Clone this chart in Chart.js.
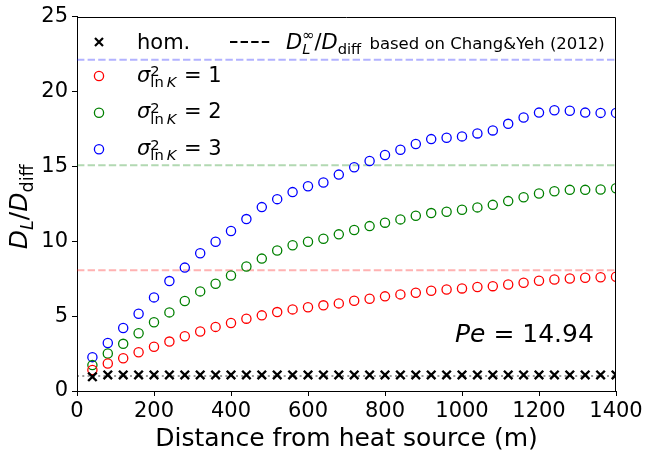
<!DOCTYPE html>
<html><head><meta charset="utf-8">
<script src="https://cdn.jsdelivr.net/npm/chart.js@4/dist/chart.umd.min.js"></script>
<style>html,body{margin:0;padding:0;background:#fff}#wrap{width:646px;height:454px}</style>
</head><body><div id="wrap"><canvas id="c" width="646" height="454"></canvas></div>
<script>
const distance = [40,80,120,160,200,240,280,320,360,400,440,480,520,560,600,640,680,720,760,800,840,880,920,960,1000,1040,1080,1120,1160,1200,1240,1280,1320,1360,1400];
const homValues = [0.95,1.07,1.07,1.07,1.07,1.07,1.07,1.07,1.07,1.07,1.07,1.07,1.07,1.07,1.07,1.07,1.07,1.07,1.07,1.07,1.07,1.07,1.07,1.07,1.07,1.07,1.07,1.07,1.07,1.07,1.07,1.07,1.07,1.07,1.07];
const sigma1Values = [1.40,1.84,2.19,2.59,2.95,3.30,3.66,3.97,4.28,4.54,4.83,5.05,5.27,5.45,5.59,5.72,5.85,6.03,6.16,6.32,6.45,6.56,6.69,6.78,6.85,6.94,7.00,7.11,7.23,7.36,7.45,7.51,7.56,7.60,7.63];
const sigma2Values = [1.73,2.50,3.15,3.86,4.59,5.25,6.01,6.65,7.16,7.71,8.31,8.84,9.38,9.73,9.97,10.17,10.46,10.75,11.01,11.24,11.46,11.70,11.88,11.97,12.10,12.26,12.43,12.68,12.94,13.19,13.34,13.43,13.43,13.45,13.54];
const sigma3Values = [2.26,3.21,4.21,5.16,6.25,7.34,8.24,9.20,9.97,10.68,11.48,12.28,12.81,13.28,13.67,13.92,14.45,14.94,15.36,15.76,16.11,16.49,16.82,16.91,17.00,17.20,17.40,17.84,18.26,18.59,18.75,18.71,18.59,18.57,18.57];
const asymptoteHom = 1.0;
const asymptoteSigma1 = 8.07;
const asymptoteSigma2 = 15.07;
const asymptoteSigma3 = 22.12;
const xRange = [0, 1400];
const xTicks = [0,200,400,600,800,1000,1200,1400];
const yTicks = [0,5,10,15,20,25];
const peText = "14.94";

const FF = '"DejaVu Sans"';
const pts = (ys) => distance.map((x,i) => ({x:x, y:ys[i]}));
const hline = (v) => xRange.map(x => ({x:x, y:v}));

function fnt(sz, it){ return (it?'italic ':'') + sz + 'px ' + FF; }
function drawMath(ctx, items, x, y, base, dry){
  let cx = x;
  for (const it of items){
    if (it.stack){
      let w = 0;
      const parts = [[it.sup, it.supDy], [it.sub, it.subDy]];
      for (const [runs, dy] of parts){
        if (!runs) continue;
        let sx = cx;
        for (const r of runs){
          ctx.font = fnt(base*0.7, r.i);
          if (!dry) ctx.fillText(r.t, sx, y + dy*base);
          sx += ctx.measureText(r.t).width;
        }
        w = Math.max(w, sx - cx);
      }
      cx += w + (it.after||0);
    } else {
      ctx.font = fnt(base*(it.s||1), it.i);
      if (!dry) ctx.fillText(it.t, cx, y + (it.dy||0)*base);
      cx += ctx.measureText(it.t).width;
    }
  }
  return cx - x;
}

const sigmaLabel = (n) => [
  {t:'σ', i:true},
  {stack:true, sup:[{t:'2'}], supDy:-0.25, sub:[{t:'ln'},{t:'\u2009'},{t:'K', i:true}], subDy:0.25, after:1},
  {t:' = ' + n}
];

const decor = {
  id:'decor',
  afterDraw(chart){
    const ctx = chart.ctx, a = chart.chartArea;
    ctx.save();
    ctx.strokeStyle = '#000'; ctx.lineWidth = 1;
    ctx.beginPath();
    ctx.moveTo(Math.round(a.left)+0.5, Math.round(a.top)+0.5);
    ctx.lineTo(Math.round(a.right)-0.5, Math.round(a.top)+0.5);
    ctx.lineTo(Math.round(a.right)-0.5, Math.round(a.bottom)+0.5);
    ctx.stroke();
    ctx.fillStyle = '#000';
    ctx.textBaseline = 'alphabetic';
    ctx.textAlign = 'left';
    const mx = 99;
    ctx.lineWidth = 2.2; ctx.strokeStyle = '#000';
    ctx.beginPath();
    ctx.moveTo(mx-4, 42-4); ctx.lineTo(mx+4, 42+4);
    ctx.moveTo(mx+4, 42-4); ctx.lineTo(mx-4, 42+4);
    ctx.stroke();
    ctx.font = fnt(21,false);
    ctx.fillText('hom.', 137, 48.5);
    const rows = [[76,'#ff0000','1'],[112.7,'#008000','2'],[149.3,'#0000ff','3']];
    for (const [ry,col,n] of rows){
      ctx.strokeStyle = col; ctx.lineWidth = 1.3;
      ctx.beginPath(); ctx.arc(mx, ry, 4.6, 0, Math.PI*2); ctx.stroke();
      ctx.fillStyle = '#000';
      drawMath(ctx, sigmaLabel(n), 137, ry+5.7, 21);
    }
    ctx.strokeStyle = '#000'; ctx.lineWidth = 2; ctx.setLineDash([7.4,3.2]);
    ctx.beginPath(); ctx.moveTo(230, 42); ctx.lineTo(270, 42); ctx.stroke();
    ctx.setLineDash([]);
    const w2 = drawMath(ctx, [
      {t:'D', i:true},
      {stack:true, sup:[{t:'∞'}], supDy:-0.42, sub:[{t:'L', i:true}], subDy:0.25, after:0},
      {t:'/'},
      {t:'D', i:true},
      {stack:true, sub:[{t:'diff'}], subDy:0.25, after:0}
    ], 286, 48.5, 21);
    ctx.font = fnt(16.5,false);
    ctx.fillText(' based on Chang&Yeh (2012)', 286 + w2 + 3, 48.5);
    drawMath(ctx, [{t:'Pe', i:true},{t:' = ' + peText}], 455, 342, 25);
    ctx.font = fnt(25,false);
    ctx.textAlign = 'center';
    ctx.fillText('Distance from heat source (m)', (a.left+a.right)/2, 446);
    ctx.textAlign = 'left';
    const yItems = [
      {t:'D', i:true},
      {stack:true, sub:[{t:'L', i:true}], subDy:0.25, after:0},
      {t:'/'},
      {t:'D', i:true},
      {stack:true, sub:[{t:'diff'}], subDy:0.25, after:0}
    ];
    const wy = drawMath(ctx, yItems, 0, 0, 25, true);
    ctx.translate(27, (a.top+a.bottom)/2 + 3);
    ctx.rotate(-Math.PI/2);
    drawMath(ctx, yItems, -wy/2, 0, 25);
    ctx.restore();
  }
};

const lineDs = (v, col, dash, w) => ({
  data: hline(v), showLine:true, pointRadius:0, borderColor:col, borderWidth:w,
  borderDash:dash, fill:false, order:10, clip:0
});
const markDs = (ys, col) => ({
  data: pts(ys), showLine:false, pointStyle:'circle', pointRadius:4.6, pointBorderWidth:1.3,
  borderColor:col, backgroundColor:'rgba(0,0,0,0)', pointBackgroundColor:'rgba(0,0,0,0)', order:1, clip:0
});

new Chart(document.getElementById('c'), {
  type:'scatter',
  data:{ datasets:[
    lineDs(asymptoteHom, 'rgba(0,0,0,0.4)', [2,3.3], 2),
    lineDs(asymptoteSigma1, 'rgba(255,0,0,0.3)', [7.4,3.2], 2),
    lineDs(asymptoteSigma2, 'rgba(0,128,0,0.3)', [7.4,3.2], 2),
    lineDs(asymptoteSigma3, 'rgba(0,0,255,0.3)', [7.4,3.2], 2),
    {data: pts(homValues), showLine:false, pointStyle:'crossRot', pointRadius:6, pointBorderWidth:2.4,
      borderColor:'#000', backgroundColor:'#000', order:1, clip:0},
    markDs(sigma1Values, '#ff0000'),
    markDs(sigma2Values, '#008000'),
    markDs(sigma3Values, '#0000ff')
  ]},
  options:{
    responsive:false, animation:false, devicePixelRatio:1,
    layout:{padding:{left:0, top:15, right:30, bottom:0}},
    plugins:{legend:{display:false}, tooltip:{enabled:false}},
    scales:{
      x:{type:'linear', min:xRange[0], max:xRange[1],
        afterBuildTicks:(s)=>{ s.ticks = xTicks.map(v=>({value:v})); },
        afterFit:(s)=>{ s.height = 63; },
        ticks:{font:{family:FF, size:21}, color:'#000', padding:3, maxRotation:0, autoSkip:false,
          callback:(v)=>String(v)},
        grid:{drawOnChartArea:false, drawTicks:true, tickLength:5, color:'#000', lineWidth:1},
        border:{display:true, color:'#000', width:1}
      },
      y:{type:'linear', min:0, max:25,
        afterBuildTicks:(s)=>{ s.ticks = yTicks.map(v=>({value:v})); },
        afterFit:(s)=>{ s.width = 77; },
        ticks:{font:{family:FF, size:21}, color:'#000', padding:4, autoSkip:false,
          callback:(v)=>String(v)},
        grid:{drawOnChartArea:false, drawTicks:true, tickLength:5, color:'#000', lineWidth:1},
        border:{display:true, color:'#000', width:1}
      }
    }
  },
  plugins:[decor]
});
</script></body></html>
